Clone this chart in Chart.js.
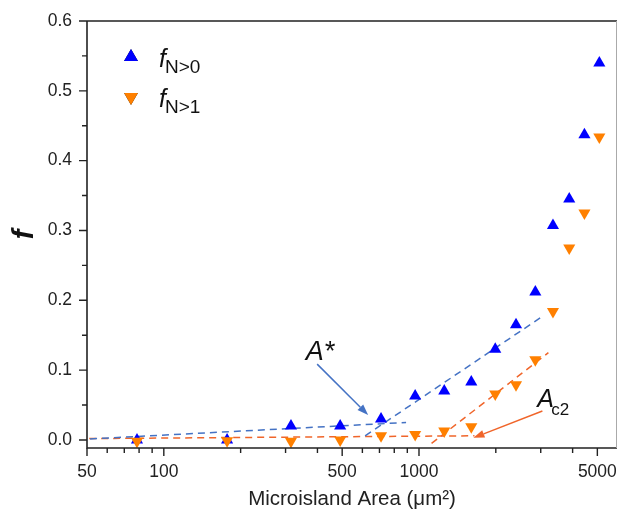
<!DOCTYPE html>
<html>
<head>
<meta charset="utf-8">
<script src="https://cdn.jsdelivr.net/npm/chart.js@4.4.0/dist/chart.umd.min.js"></script>
<style>
  html, body { margin: 0; padding: 0; background: #fff; }
  #wrap { width: 618px; height: 512px; }
</style>
</head>
<body>
<div id="wrap"><canvas id="chart"></canvas></div>
<script>
/* ---- données ---- */
const areas = [78.5, 177, 315, 491, 710, 966, 1256, 1603, 1990, 2400, 2857, 3350, 3880, 4450, 5090];
const fN0   = [0.0, 0.0, 0.02, 0.02, 0.03, 0.063, 0.07, 0.083, 0.13, 0.165, 0.212, 0.307, 0.345, 0.437, 0.54];
const fN1   = [-0.002, -0.001, -0.002, 0.0, 0.006, 0.008, 0.013, 0.019, 0.066, 0.079, 0.115, 0.184, 0.275, 0.325, 0.434];

/* droites d'ajustement (pointillés) : [x, y] aux extrémités */
const fitBlueLow    = [[51.4, 0.0015], [890, 0.025]];
const fitBlueHigh   = [[615, 0.006], [2990, 0.175]];
const fitOrangeLow  = [[51, 0.002], [1650, 0.006]];
const fitOrangeHigh = [[1120, -0.005], [3215, 0.125]];

/* graduations */
const xMajor = [50, 100, 500, 1000, 5000];
const xMinor = [60, 70, 80, 90, 200, 300, 400, 600, 700, 800, 900, 2000, 3000, 4000];
const yMajor = [0, 0.1, 0.2, 0.3, 0.4, 0.5, 0.6];
const yMinor = [0.05, 0.15, 0.25, 0.35, 0.45, 0.55];

const BLUE = '#0000ff';
const ORANGE = '#ff8000';
const FIT_BLUE = '#4472c4';
const FIT_ORANGE = '#f0652a';
const FONT = 'Liberation Sans, Arial, sans-serif';

const toPts = arr => arr.map(p => ({ x: p[0], y: p[1] }));

function fitLine(pts, color) {
    return {
        type: 'line',
        data: toPts(pts),
        borderColor: color,
        borderWidth: 1.5,
        borderDash: [7, 5],
        pointRadius: 0,
        fill: false,
        order: 2,
    };
}

/* ---- cadre, graduations, légende, annotations ---- */
const decor = {
    id: 'decor',
    afterDraw(chart) {
        const { ctx, chartArea: a, scales: { x, y } } = chart;
        ctx.save();

        // cadre
        ctx.strokeStyle = '#222';
        ctx.lineWidth = 1.6;
        ctx.beginPath();
        ctx.moveTo(a.left, a.top); ctx.lineTo(a.left, a.bottom); ctx.lineTo(a.right, a.bottom);
        ctx.moveTo(a.left, a.top); ctx.lineTo(a.right, a.top);
        ctx.stroke();
        ctx.strokeStyle = '#aaa';
        ctx.lineWidth = 1;
        ctx.beginPath();
        ctx.moveTo(a.right - 0.5, a.top); ctx.lineTo(a.right - 0.5, a.bottom);
        ctx.stroke();

        // graduations (vers l'extérieur)
        ctx.strokeStyle = '#222';
        ctx.lineWidth = 1.4;
        ctx.beginPath();
        xMajor.forEach(v => { const p = x.getPixelForValue(v); ctx.moveTo(p, a.bottom); ctx.lineTo(p, a.bottom + 8); });
        xMinor.forEach(v => { const p = x.getPixelForValue(v); ctx.moveTo(p, a.bottom); ctx.lineTo(p, a.bottom + 5); });
        yMajor.forEach(v => { const p = y.getPixelForValue(v); ctx.moveTo(a.left, p); ctx.lineTo(a.left - 8, p); });
        yMinor.forEach(v => { const p = y.getPixelForValue(v); ctx.moveTo(a.left, p); ctx.lineTo(a.left - 5, p); });
        ctx.stroke();

        // légende
        const items = [
            { color: BLUE, rot: 0, sub: 'N>0', cy: 57 },
            { color: ORANGE, rot: 180, sub: 'N>1', cy: 97 },
        ];
        items.forEach(it => {
            Chart.helpers.drawPoint(ctx, { pointStyle: 'triangle', radius: 8, rotation: it.rot, borderWidth: 0 }, 131, it.cy);
            ctx.fillStyle = it.color;
            ctx.fill();
            ctx.fillStyle = '#111';
            ctx.textBaseline = 'alphabetic';
            ctx.textAlign = 'left';
            ctx.font = 'italic 25px ' + FONT;
            ctx.fillText('f', 159, it.cy + 10);
            ctx.font = '19px ' + FONT;
            ctx.fillText(it.sub, 165, it.cy + 16);
        });

        // annotations
        arrow(ctx, x.getPixelForValue(399), y.getPixelForValue(0.1086),
                   x.getPixelForValue(632), y.getPixelForValue(0.0357), FIT_BLUE);
        arrow(ctx, x.getPixelForValue(3045), y.getPixelForValue(0.0414),
                   x.getPixelForValue(1634), y.getPixelForValue(0.003), FIT_ORANGE);

        ctx.fillStyle = '#111';
        ctx.textAlign = 'center';
        ctx.textBaseline = 'middle';
        ctx.font = 'italic 27px ' + FONT;
        ctx.fillText('A*', x.getPixelForValue(409), y.getPixelForValue(0.126));

        ctx.textAlign = 'left';
        ctx.textBaseline = 'alphabetic';
        const ax = x.getPixelForValue(2905), ay = y.getPixelForValue(0.047);
        ctx.font = 'italic 25px ' + FONT;
        ctx.fillText('A', ax, ay);
        ctx.font = '17px ' + FONT;
        ctx.fillText('c2', ax + 14, ay + 8);

        ctx.restore();
    }
};

function arrow(ctx, x0, y0, x1, y1, color) {
    const ang = Math.atan2(y1 - y0, x1 - x0);
    const L = 11, W = 4;
    ctx.strokeStyle = color;
    ctx.fillStyle = color;
    ctx.lineWidth = 1.5;
    ctx.setLineDash([]);
    ctx.beginPath();
    ctx.moveTo(x0, y0);
    ctx.lineTo(x1 - L * Math.cos(ang), y1 - L * Math.sin(ang));
    ctx.stroke();
    ctx.beginPath();
    ctx.moveTo(x1, y1);
    ctx.lineTo(x1 - L * Math.cos(ang) + W * Math.sin(ang), y1 - L * Math.sin(ang) - W * Math.cos(ang));
    ctx.lineTo(x1 - L * Math.cos(ang) - W * Math.sin(ang), y1 - L * Math.sin(ang) + W * Math.cos(ang));
    ctx.closePath();
    ctx.fill();
}

new Chart(document.getElementById('chart'), {
    type: 'scatter',
    data: {
        datasets: [
            fitLine(fitBlueLow, FIT_BLUE),
            fitLine(fitBlueHigh, FIT_BLUE),
            fitLine(fitOrangeLow, FIT_ORANGE),
            fitLine(fitOrangeHigh, FIT_ORANGE),
            {
                label: 'fN>0',
                data: areas.map((a, i) => ({ x: a, y: fN0[i] })),
                pointStyle: 'triangle',
                pointRadius: 7,
                backgroundColor: BLUE,
                borderColor: BLUE,
                borderWidth: 0,
                order: 1,
            },
            {
                label: 'fN>1',
                data: areas.map((a, i) => ({ x: a, y: fN1[i] })),
                pointStyle: 'triangle',
                rotation: 180,
                pointRadius: 7,
                backgroundColor: ORANGE,
                borderColor: ORANGE,
                borderWidth: 0,
                order: 0,
            },
        ]
    },
    options: {
        responsive: true,
        maintainAspectRatio: false,
        animation: false,
        layout: { autoPadding: false, padding: { top: 21, right: 1, left: 0, bottom: 0 } },
        plugins: {
            legend: { display: false },
            tooltip: { enabled: false }
        },
        scales: {
            x: {
                type: 'logarithmic',
                min: 50, max: 5970,
                afterBuildTicks: s => { s.ticks = xMajor.map(v => ({ value: v })); },
                afterFit: s => { s.height = 64; },
                /* graduations natives invisibles : servent seulement à décaler les libellés */
                grid: { drawOnChartArea: false, drawTicks: true, tickLength: 14, tickColor: 'rgba(0,0,0,0)' },
                border: { display: false },
                ticks: {
                    autoSkip: false, maxRotation: 0, padding: 0,
                    color: '#222', font: { family: FONT, size: 17.5 },
                    callback: v => String(v)
                },
                title: {
                    display: true, text: 'Microisland Area (μm²)',
                    color: '#222', font: { family: FONT, size: 20.5 },
                    padding: { top: 0, bottom: 0 }
                }
            },
            y: {
                min: -0.0115, max: 0.6,
                afterBuildTicks: s => { s.ticks = yMajor.map(v => ({ value: v })); },
                afterFit: s => { s.width = 87; },
                grid: { drawOnChartArea: false, drawTicks: true, tickLength: 15, tickColor: 'rgba(0,0,0,0)' },
                border: { display: false },
                ticks: {
                    padding: 0,
                    color: '#222', font: { family: FONT, size: 17.5 },
                    callback: v => v.toFixed(1)
                },
                title: {
                    display: true, text: 'f',
                    color: '#111', font: { family: FONT, size: 29, style: 'italic', weight: 'bold' },
                    padding: { top: 8, bottom: 0 }
                }
            }
        }
    },
    plugins: [decor]
});
</script>
</body>
</html>
